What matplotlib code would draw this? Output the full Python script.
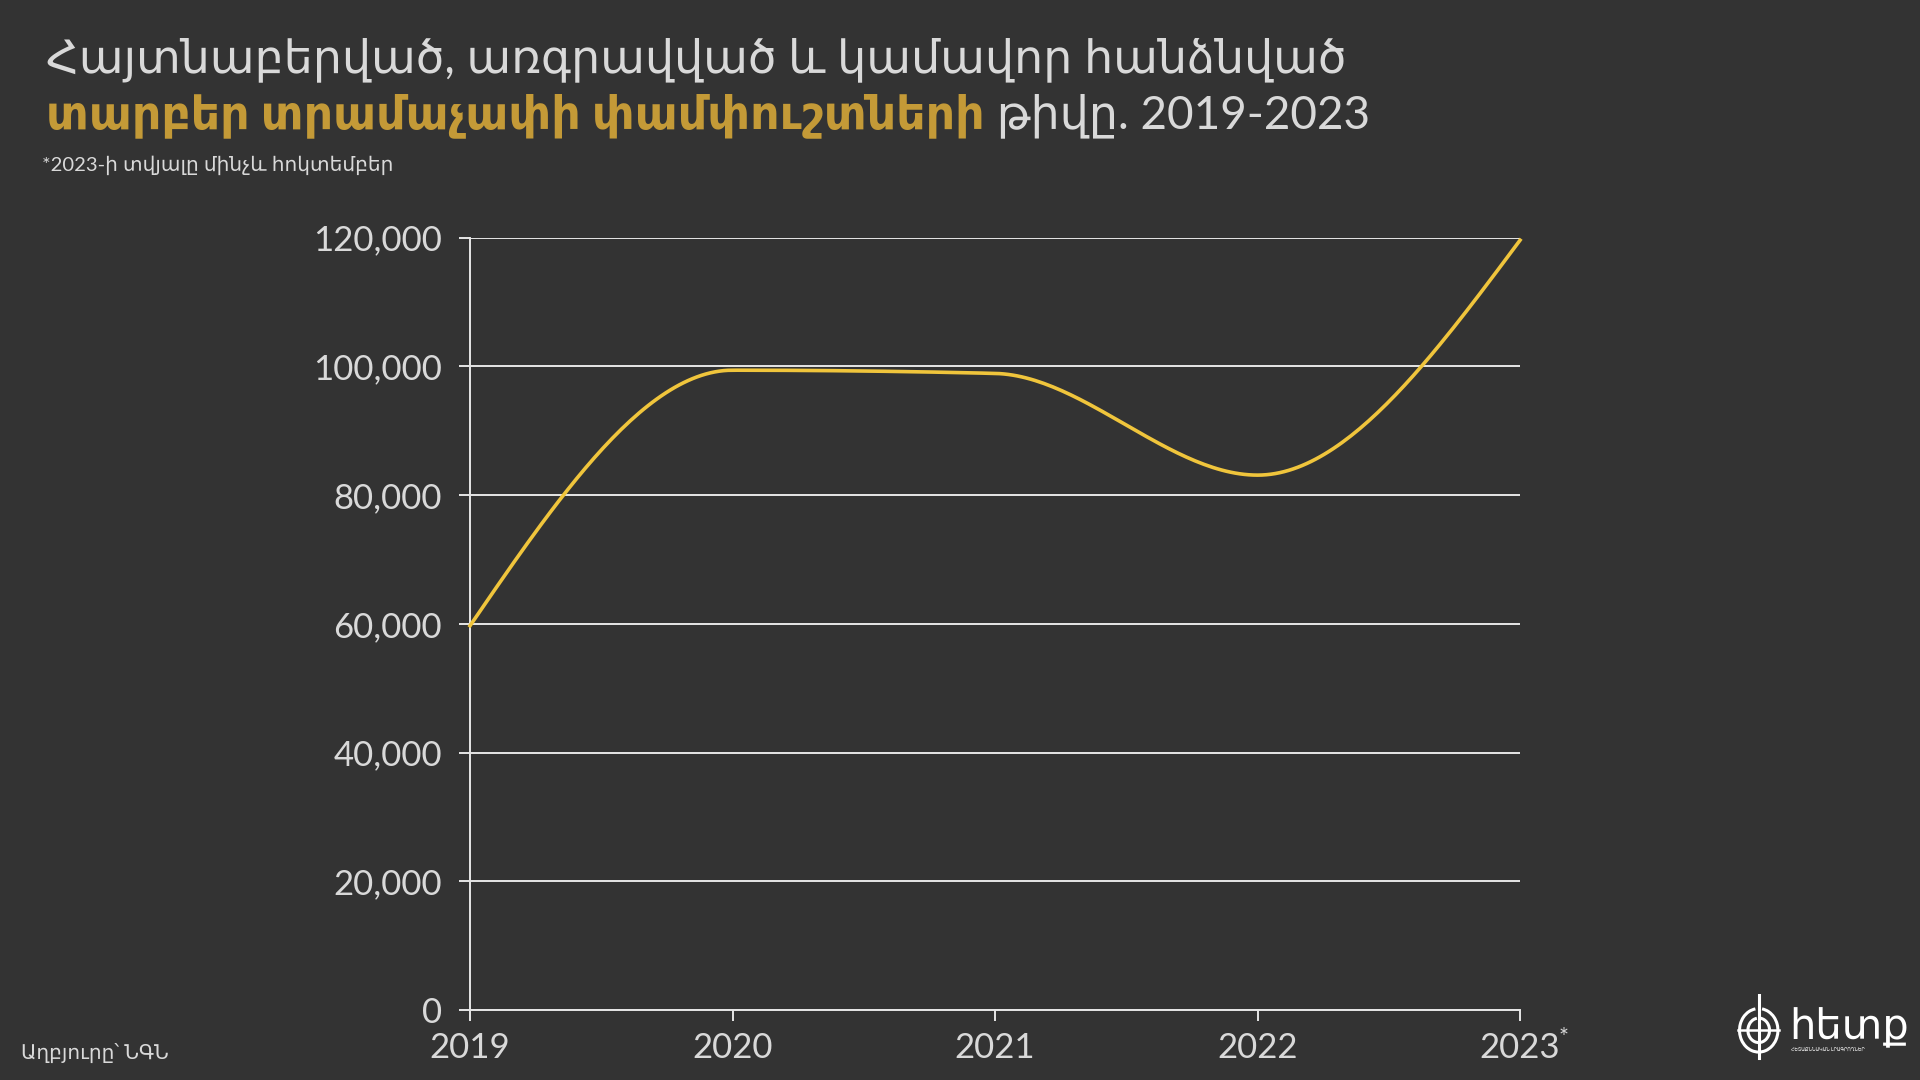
import matplotlib.pyplot as plt
import matplotlib.patches as mpatches
import numpy as np

years = [2019, 2020, 2021, 2022, 2023]
tick_labels = ['2019', '2020', '2021', '2022', '2023']
values = [59700, 99400, 98900, 83100, 119600]
y_ticks = [0, 20000, 40000, 60000, 80000, 100000, 120000]

title_1 = 'Հայտնաբերված, առգրավված և կամավոր հանձնված'
title_2a = 'տարբեր տրամաչափի փամփուշտների'
title_2b = ' թիվը. 2019-2023'
note = '*2023-ի տվյալը մինչև հոկտեմբեր'
source = 'Աղբյուրը՝ ՆԳՆ'

BG = '#333333'
FG = '#d9d9d9'
GOLD = '#c49a37'
LINE = '#f0c53c'
FAM = ['Lato', 'DejaVu Sans']


def monotone_x(x, y, n=60):
    # d3 curveMonotoneX style smoothing through the data points
    x = np.asarray(x, float)
    y = np.asarray(y, float)
    h = np.diff(x)
    s = np.diff(y) / h
    t = np.zeros(len(x))
    for i in range(1, len(x) - 1):
        p = (s[i - 1] * h[i] + s[i] * h[i - 1]) / (h[i - 1] + h[i])
        t[i] = (np.sign(s[i - 1]) + np.sign(s[i])) * min(abs(s[i - 1]), abs(s[i]), 0.5 * abs(p))
    t[0] = (3 * s[0] - t[1]) / 2
    t[-1] = (3 * s[-1] - t[-2]) / 2
    xs, ys = [], []
    for i in range(len(x) - 1):
        u = np.linspace(0, 1, n)
        x0, x1, y0, y1 = x[i], x[i + 1], y[i], y[i + 1]
        dx = x1 - x0
        c = [(x0, y0), (x0 + dx / 3, y0 + dx * t[i] / 3),
             (x1 - dx / 3, y1 - dx * t[i + 1] / 3), (x1, y1)]
        b = [(1 - u) ** 3, 3 * u * (1 - u) ** 2, 3 * u ** 2 * (1 - u), u ** 3]
        xs.append(sum(bi * ci[0] for bi, ci in zip(b, c)))
        ys.append(sum(bi * ci[1] for bi, ci in zip(b, c)))
    return np.concatenate(xs), np.concatenate(ys)


fig = plt.figure(figsize=(19.2, 10.8), dpi=100, facecolor=BG)
ax = fig.add_axes([0.2448, 0.0648, 0.5469, 0.7152], facecolor=BG)

sx, sy = monotone_x(years, values)
ax.plot(sx, sy, color=LINE, lw=2.6, zorder=3, clip_on=False)

ax.set_xlim(2019, 2023)
ax.set_ylim(0, 120000)
ax.set_xticks(years)
ax.set_xticklabels(tick_labels)
ax.set_yticks(y_ticks)
ax.set_yticklabels(['{:,}'.format(v) for v in y_ticks])
ax.grid(axis='y', color='#e6e6e6', lw=1.4)
ax.set_axisbelow(True)
for side in ['top', 'right']:
    ax.spines[side].set_visible(False)
for side in ['left', 'bottom']:
    ax.spines[side].set_color('#e6e6e6')
    ax.spines[side].set_linewidth(1.4)
ax.tick_params(axis='both', colors='#e6e6e6', length=8, width=1.4, labelcolor=FG, labelsize=25)
ax.tick_params(axis='y', pad=12)
ax.tick_params(axis='x', pad=8)
for lab in ax.get_xticklabels() + ax.get_yticklabels():
    lab.set_family(FAM)
ax.text(1.037, -0.022, '*', transform=ax.transAxes, color=FG, fontsize=17,
        family=FAM, ha='left', va='top')

# titles
fig.text(0.024, 0.945, title_1, color=FG, fontsize=33, family=FAM,
         ha='left', va='center')
t2 = fig.text(0.024, 0.893, title_2a, color=GOLD, fontsize=33, family=FAM,
              weight='bold', ha='left', va='center')
ax.annotate(title_2b, xy=(1, 0), xycoords=t2, color=FG, fontsize=33,
            family=FAM, ha='left', va='bottom', annotation_clip=False)
fig.text(0.022, 0.847, note, color=FG, fontsize=14.5, family=FAM,
         ha='left', va='center')
fig.text(0.011, 0.025, source, color=FG, fontsize=14.5, family=FAM,
         ha='left', va='center')

# logo
logo_ax = fig.add_axes([0.9035, 0.012, 0.025, 0.068], facecolor='none')
logo_ax.set_xlim(-1, 1)
logo_ax.set_ylim(-1.35, 1.35)
logo_ax.axis('off')
for r in [0.8, 0.45]:
    logo_ax.add_patch(mpatches.Arc((0, 0), 2 * r, 2 * r, theta1=100, theta2=80,
                                   ec='white', lw=2.2))
logo_ax.plot([0, 0], [-1.0, 1.3], color='white', lw=2.2)
logo_ax.plot([-0.85, 0.85], [0, 0], color='white', lw=1.8)
fig.text(0.932, 0.048, 'հետք', color='white', fontsize=30, family=FAM,
         ha='left', va='center')
fig.text(0.933, 0.027, 'ՀԵՏԱՔՆՆԱԿԱՆ ԼՐԱԳՐՈՂՆԵՐ', color='white', fontsize=3.4,
         family=FAM, ha='left', va='center')

fig.savefig('out.png', dpi=100, facecolor=BG)
